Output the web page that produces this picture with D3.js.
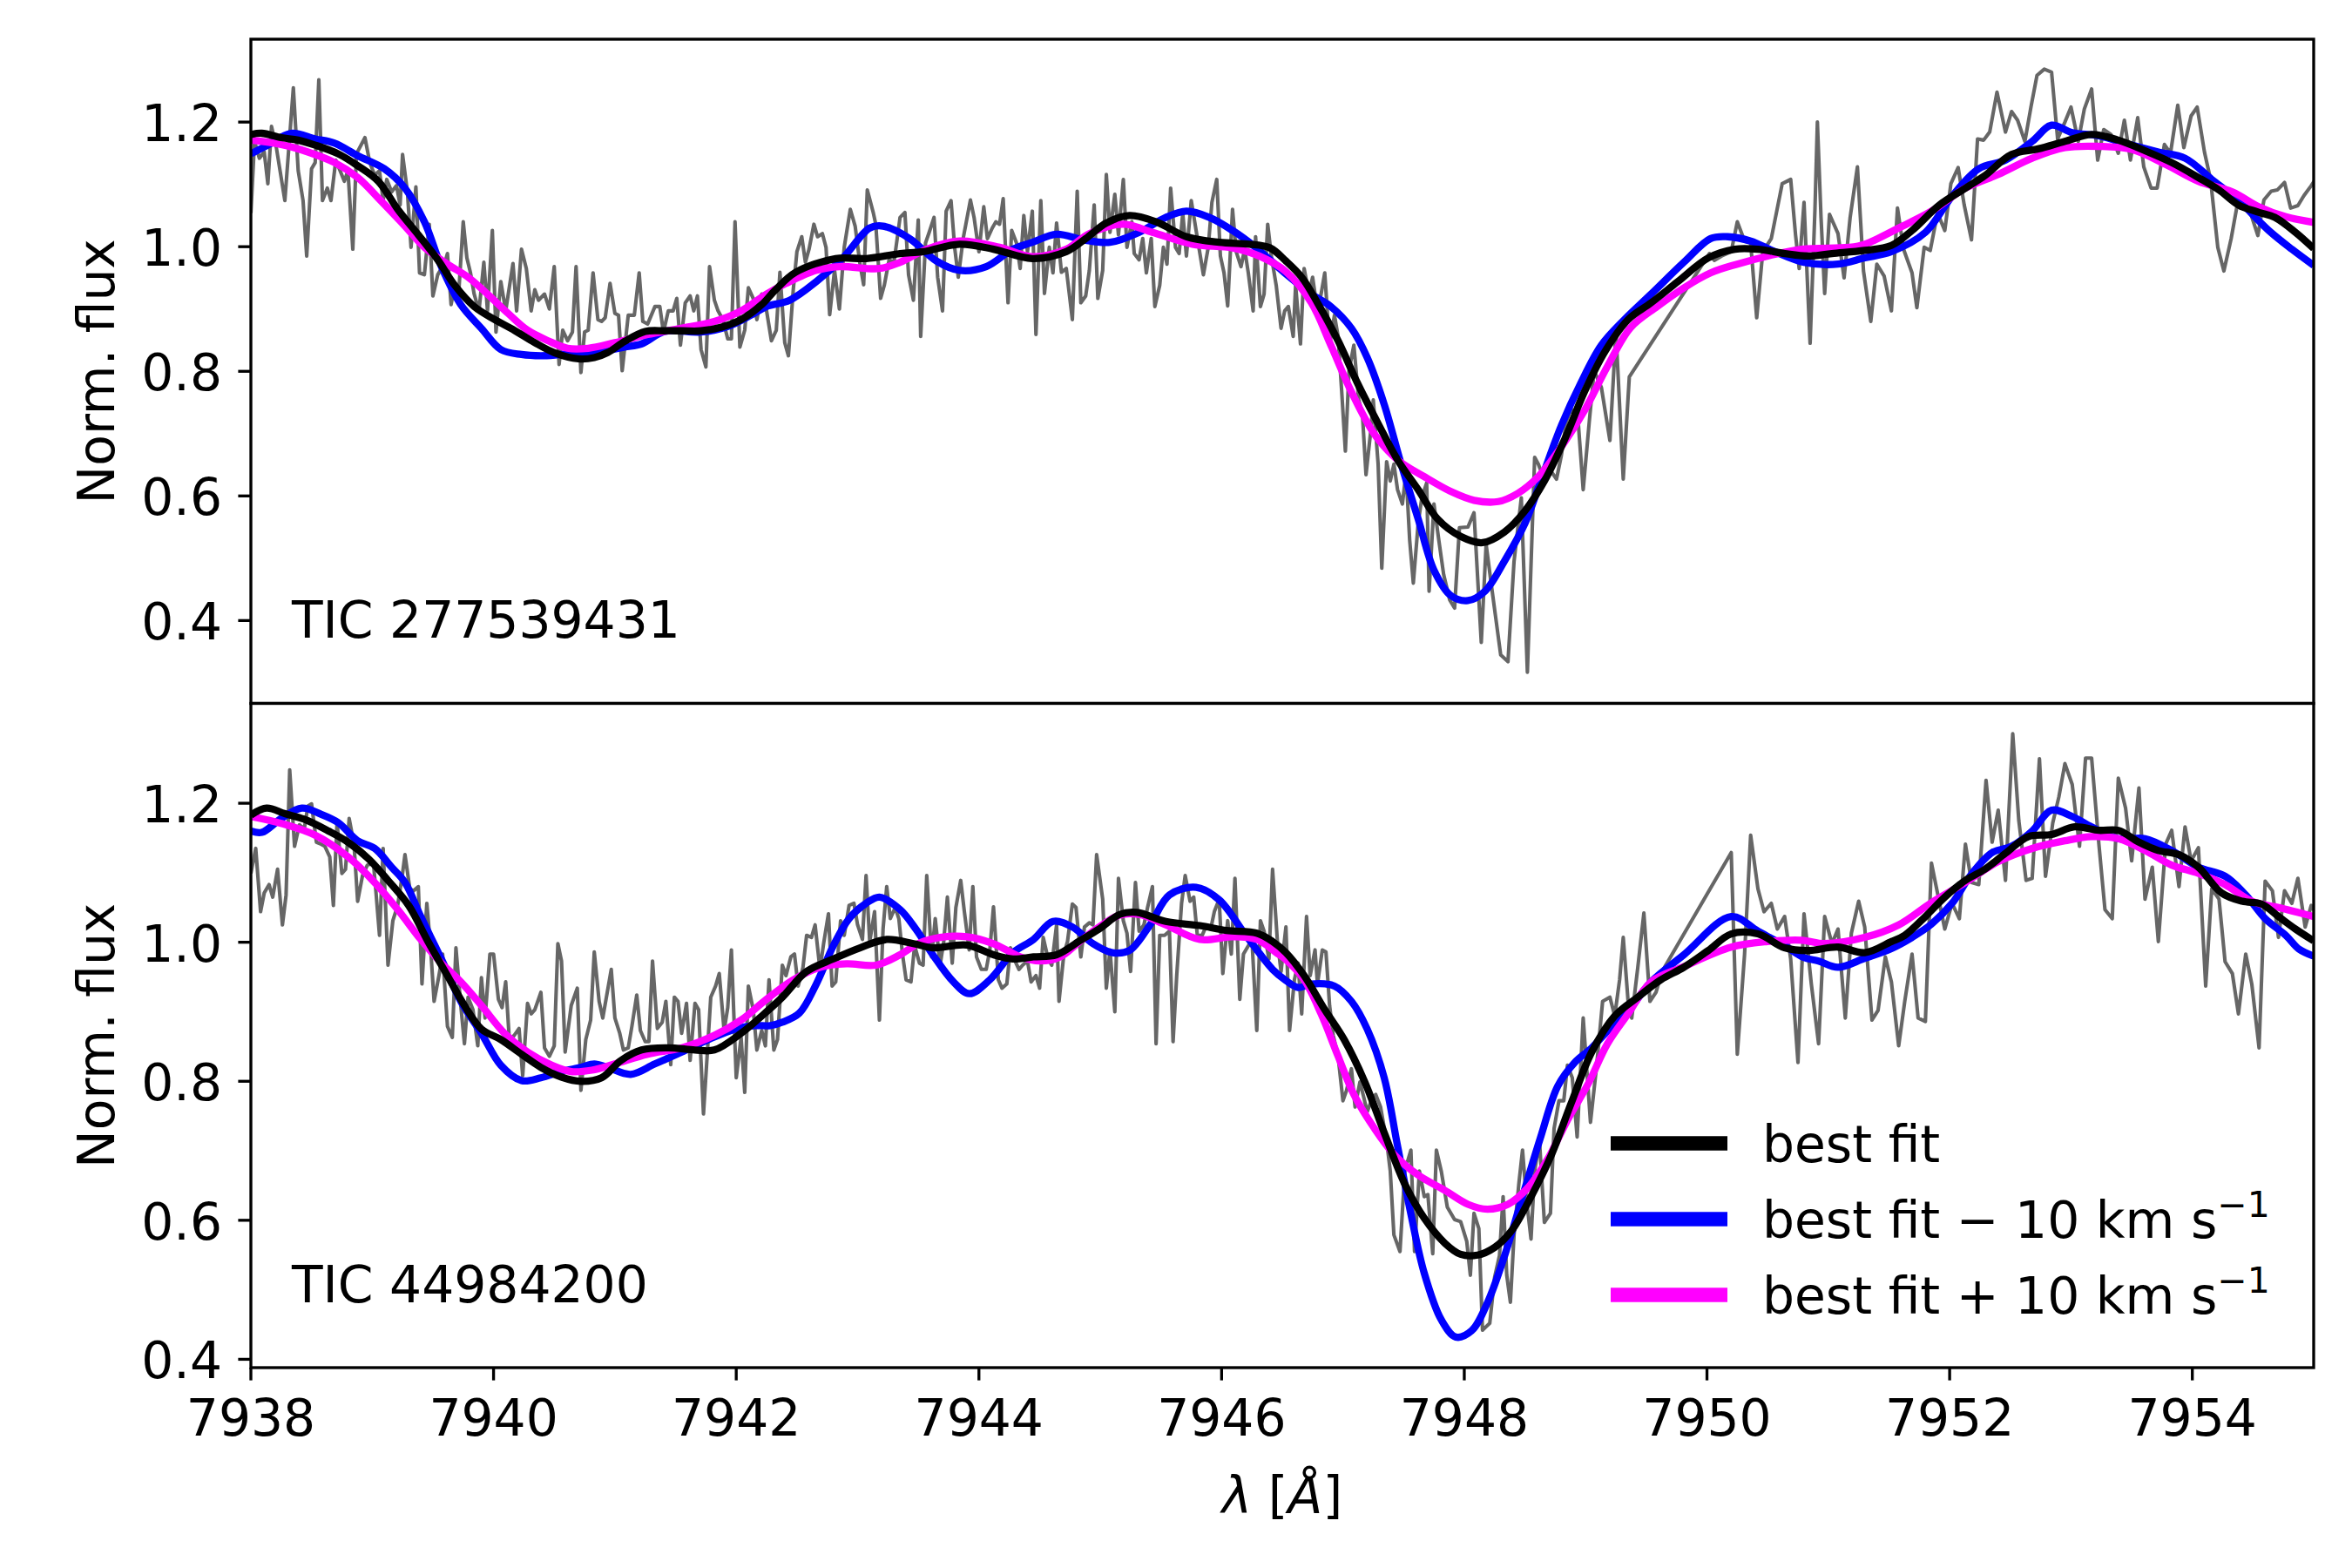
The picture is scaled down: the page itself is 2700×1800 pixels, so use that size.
<!DOCTYPE html>
<html><head><meta charset="utf-8">
<script src="https://cdn.jsdelivr.net/npm/d3@7"></script>
<style>body{margin:0;background:#fff}svg{display:block}</style>
</head><body><svg id="c" width="2700" height="1800"></svg>
<script>
const wavelengthTicks=[7938,7940,7942,7944,7946,7948,7950,7952,7954];
const fluxTicks=[0.4,0.6,0.8,1.0,1.2];
const panelLabels=["TIC 277539431","TIC 44984200"];
const legendLabels=[["best fit",""],["best fit \u2212 10 km s","\u22121"],["best fit + 10 km s","\u22121"]];
const fitColors=["#0000ff","#ff00ff","#000000"];

const topObserved=[[7938.00,1.054],[7938.03,1.169],[7938.07,1.142],[7938.11,1.152],[7938.14,1.101],[7938.17,1.193],[7938.21,1.159],[7938.28,1.074],[7938.35,1.255],[7938.39,1.122],[7938.43,1.074],[7938.46,0.985],[7938.50,1.125],[7938.53,1.135],[7938.56,1.268],[7938.59,1.074],[7938.63,1.094],[7938.66,1.074],[7938.70,1.139],[7938.77,1.105],[7938.80,1.122],[7938.84,0.996],[7938.87,1.149],[7938.94,1.175],[7938.98,1.135],[7939.02,1.115],[7939.06,1.122],[7939.09,1.074],[7939.12,1.108],[7939.16,1.088],[7939.20,1.098],[7939.23,1.067],[7939.25,1.148],[7939.29,1.088],[7939.32,0.999],[7939.36,1.096],[7939.39,0.958],[7939.43,0.955],[7939.47,1.036],[7939.50,0.921],[7939.54,0.955],[7939.60,0.975],[7939.62,0.989],[7939.65,0.907],[7939.68,0.938],[7939.71,0.917],[7939.75,1.040],[7939.78,0.982],[7939.81,0.958],[7939.84,0.924],[7939.88,0.897],[7939.92,0.975],[7939.95,0.897],[7939.99,1.026],[7940.02,0.863],[7940.06,0.944],[7940.10,0.897],[7940.16,0.973],[7940.19,0.897],[7940.23,0.996],[7940.27,0.965],[7940.31,0.897],[7940.34,0.931],[7940.37,0.914],[7940.42,0.924],[7940.46,0.900],[7940.50,0.968],[7940.54,0.811],[7940.57,0.866],[7940.61,0.849],[7940.65,0.863],[7940.68,0.968],[7940.72,0.798],[7940.75,0.863],[7940.78,0.866],[7940.82,0.958],[7940.86,0.883],[7940.89,0.880],[7940.92,0.886],[7940.96,0.941],[7941.00,0.893],[7941.03,0.890],[7941.06,0.801],[7941.11,0.890],[7941.16,0.890],[7941.20,0.958],[7941.23,0.880],[7941.27,0.876],[7941.33,0.904],[7941.37,0.904],[7941.40,0.863],[7941.44,0.897],[7941.48,0.897],[7941.51,0.917],[7941.54,0.842],[7941.58,0.910],[7941.62,0.921],[7941.65,0.897],[7941.68,0.921],[7941.71,0.835],[7941.75,0.807],[7941.78,0.968],[7941.82,0.914],[7941.85,0.897],[7941.89,0.883],[7941.93,0.852],[7941.96,0.852],[7941.99,1.040],[7942.03,0.839],[7942.07,0.866],[7942.10,0.934],[7942.14,0.917],[7942.17,0.883],[7942.21,0.924],[7942.25,0.897],[7942.29,0.849],[7942.33,0.866],[7942.36,0.959],[7942.40,0.846],[7942.43,0.825],[7942.47,0.931],[7942.50,0.992],[7942.54,1.016],[7942.57,0.975],[7942.60,0.996],[7942.64,1.036],[7942.67,1.016],[7942.71,1.021],[7942.74,0.999],[7942.77,0.891],[7942.81,0.962],[7942.85,0.900],[7942.89,0.999],[7942.94,1.060],[7942.98,1.033],[7943.02,0.972],[7943.05,0.939],[7943.08,1.091],[7943.13,1.054],[7943.15,1.036],[7943.19,0.917],[7943.22,0.938],[7943.26,0.979],[7943.30,0.975],[7943.35,1.047],[7943.39,1.055],[7943.42,0.955],[7943.46,0.914],[7943.50,1.043],[7943.52,0.856],[7943.56,1.006],[7943.59,1.023],[7943.63,1.047],[7943.66,0.951],[7943.70,0.897],[7943.73,1.057],[7943.77,1.074],[7943.80,0.999],[7943.83,0.951],[7943.87,1.013],[7943.93,1.075],[7943.96,1.047],[7944.00,0.992],[7944.04,1.064],[7944.07,1.013],[7944.11,1.030],[7944.14,1.040],[7944.17,1.036],[7944.20,1.077],[7944.24,0.910],[7944.27,1.026],[7944.31,1.006],[7944.34,0.965],[7944.37,1.050],[7944.40,0.992],[7944.44,1.057],[7944.47,0.859],[7944.51,1.074],[7944.54,0.925],[7944.58,0.999],[7944.61,0.958],[7944.64,1.038],[7944.68,0.959],[7944.72,0.965],[7944.77,0.883],[7944.81,1.089],[7944.84,0.910],[7944.88,0.921],[7944.91,0.962],[7944.95,1.067],[7944.98,0.917],[7945.02,0.962],[7945.05,1.116],[7945.08,1.023],[7945.12,1.084],[7945.15,1.019],[7945.19,1.108],[7945.22,0.999],[7945.26,1.040],[7945.28,0.989],[7945.32,0.979],[7945.35,1.013],[7945.38,0.958],[7945.42,1.013],[7945.45,0.904],[7945.49,0.938],[7945.52,0.999],[7945.55,0.972],[7945.58,1.094],[7945.62,0.999],[7945.65,0.989],[7945.68,1.054],[7945.71,0.985],[7945.75,1.074],[7945.79,1.026],[7945.85,0.955],[7945.89,0.999],[7945.92,1.071],[7945.96,1.108],[7945.99,0.985],[7946.02,0.958],[7946.05,0.905],[7946.09,1.060],[7946.12,0.992],[7946.16,0.968],[7946.19,0.996],[7946.22,0.958],[7946.26,0.897],[7946.28,1.016],[7946.32,0.904],[7946.35,0.924],[7946.38,1.036],[7946.41,0.985],[7946.45,0.938],[7946.49,0.869],[7946.52,0.897],[7946.55,0.904],[7946.59,0.856],[7946.61,0.938],[7946.65,0.844],[7946.68,0.965],[7946.72,0.924],[7946.75,0.951],[7946.79,0.897],[7946.82,0.924],[7946.85,0.958],[7946.89,0.842],[7946.93,0.890],[7946.96,0.856],[7946.99,0.767],[7947.02,0.672],[7947.05,0.801],[7947.09,0.842],[7947.13,0.754],[7947.16,0.733],[7947.19,0.634],[7947.23,0.706],[7947.25,0.754],[7947.29,0.651],[7947.32,0.484],[7947.36,0.655],[7947.39,0.624],[7947.42,0.651],[7947.45,0.610],[7947.49,0.587],[7947.52,0.638],[7947.55,0.529],[7947.58,0.460],[7947.62,0.556],[7947.65,0.597],[7947.69,0.621],[7947.71,0.447],[7947.75,0.587],[7947.79,0.529],[7947.83,0.474],[7947.88,0.433],[7947.92,0.420],[7947.96,0.549],[7948.03,0.550],[7948.08,0.573],[7948.14,0.365],[7948.18,0.522],[7948.23,0.447],[7948.30,0.345],[7948.36,0.334],[7948.41,0.495],[7948.47,0.597],[7948.52,0.317],[7948.58,0.662],[7948.61,0.651],[7948.65,0.631],[7948.70,0.644],[7948.76,0.627],[7948.80,0.665],[7948.84,0.719],[7948.88,0.740],[7948.94,0.716],[7948.98,0.610],[7949.03,0.719],[7949.07,0.801],[7949.13,0.774],[7949.20,0.689],[7949.25,0.863],[7949.31,0.627],[7949.36,0.791],[7950.02,0.989],[7950.06,0.978],[7950.12,0.985],[7950.20,0.992],[7950.25,1.040],[7950.31,1.009],[7950.36,1.006],[7950.41,0.886],[7950.46,0.992],[7950.53,1.013],[7950.62,1.101],[7950.69,1.108],[7950.73,1.019],[7950.76,0.965],[7950.80,1.071],[7950.82,0.978],[7950.85,0.845],[7950.89,1.060],[7950.91,1.200],[7950.94,1.047],[7950.97,0.925],[7951.01,1.052],[7951.08,1.021],[7951.13,0.950],[7951.18,1.047],[7951.24,1.128],[7951.29,0.961],[7951.35,0.880],[7951.40,0.972],[7951.46,0.953],[7951.52,0.897],[7951.57,1.062],[7951.62,0.996],[7951.69,0.958],[7951.73,0.902],[7951.79,0.999],[7951.84,0.994],[7951.90,1.054],[7951.96,1.026],[7952.01,1.101],[7952.07,1.127],[7952.12,1.067],[7952.18,1.011],[7952.23,1.173],[7952.28,1.171],[7952.33,1.184],[7952.39,1.248],[7952.46,1.184],[7952.51,1.217],[7952.56,1.203],[7952.62,1.169],[7952.67,1.224],[7952.72,1.275],[7952.78,1.285],[7952.84,1.280],[7952.89,1.173],[7952.95,1.200],[7953.00,1.224],[7953.06,1.169],[7953.11,1.221],[7953.17,1.253],[7953.22,1.139],[7953.27,1.188],[7953.33,1.180],[7953.39,1.150],[7953.44,1.203],[7953.49,1.139],[7953.55,1.207],[7953.60,1.128],[7953.66,1.094],[7953.71,1.094],[7953.77,1.164],[7953.82,1.150],[7953.88,1.227],[7953.93,1.159],[7953.99,1.210],[7954.04,1.224],[7954.10,1.152],[7954.15,1.108],[7954.21,0.999],[7954.26,0.961],[7954.32,1.013],[7954.37,1.067],[7954.43,1.067],[7954.48,1.054],[7954.54,1.018],[7954.59,1.075],[7954.65,1.089],[7954.70,1.091],[7954.76,1.103],[7954.81,1.062],[7954.87,1.066],[7954.92,1.082],[7954.98,1.098],[7955.02,1.110]];

const topBest=[[7938.00,1.180],[7938.09,1.182],[7938.25,1.175],[7938.39,1.171],[7938.53,1.163],[7938.72,1.149],[7938.88,1.130],[7939.05,1.105],[7939.21,1.060],[7939.38,1.019],[7939.54,0.979],[7939.68,0.938],[7939.84,0.904],[7940.01,0.883],[7940.17,0.866],[7940.34,0.846],[7940.50,0.830],[7940.70,0.820],[7940.83,0.822],[7940.94,0.830],[7941.08,0.848],[7941.25,0.864],[7941.41,0.865],[7941.55,0.865],[7941.71,0.865],[7941.88,0.871],[7942.04,0.883],[7942.21,0.907],[7942.32,0.930],[7942.49,0.959],[7942.82,0.981],[7943.07,0.981],[7943.35,0.989],[7943.54,0.992],[7943.84,1.004],[7944.12,0.996],[7944.44,0.981],[7944.72,0.992],[7944.88,1.013],[7945.05,1.038],[7945.24,1.050],[7945.46,1.040],[7945.71,1.016],[7945.98,1.007],[7946.23,1.004],[7946.40,0.998],[7946.53,0.977],[7946.66,0.951],[7946.79,0.910],[7946.96,0.849],[7947.12,0.781],[7947.29,0.716],[7947.45,0.658],[7947.62,0.610],[7947.78,0.563],[7947.97,0.535],[7948.15,0.525],[7948.33,0.542],[7948.50,0.576],[7948.66,0.624],[7948.83,0.692],[7948.99,0.767],[7949.16,0.832],[7949.35,0.883],[7949.54,0.910],[7949.76,0.944],[7950.01,0.982],[7950.23,0.996],[7950.42,0.996],[7950.64,0.989],[7950.83,0.985],[7951.03,0.989],[7951.30,0.994],[7951.52,1.002],[7951.69,1.026],[7951.91,1.066],[7952.13,1.094],[7952.29,1.114],[7952.51,1.148],[7952.73,1.157],[7952.95,1.169],[7953.17,1.180],[7953.39,1.171],[7953.61,1.154],[7953.83,1.135],[7954.05,1.111],[7954.22,1.091],[7954.38,1.067],[7954.55,1.055],[7954.68,1.047],[7954.85,1.023],[7955.00,0.997]];

const topMinus=[[7938.00,1.149],[7938.14,1.163],[7938.33,1.182],[7938.53,1.173],[7938.69,1.166],[7938.88,1.146],[7939.10,1.125],[7939.27,1.094],[7939.43,1.040],[7939.57,0.968],[7939.73,0.907],[7939.90,0.869],[7940.06,0.835],[7940.23,0.827],[7940.39,0.825],[7940.56,0.827],[7940.72,0.829],[7940.89,0.832],[7941.08,0.839],[7941.22,0.844],[7941.41,0.864],[7941.71,0.863],[7941.93,0.872],[7942.12,0.890],[7942.25,0.904],[7942.44,0.914],[7942.66,0.944],[7942.88,0.982],[7943.10,1.030],[7943.21,1.033],[7943.43,1.013],[7943.65,0.977],[7943.84,0.962],[7944.06,0.968],[7944.28,0.996],[7944.44,1.007],[7944.64,1.020],[7944.86,1.011],[7945.08,1.007],[7945.32,1.023],[7945.54,1.047],[7945.71,1.057],[7945.90,1.047],[7946.09,1.026],[7946.28,0.999],[7946.52,0.958],[7946.74,0.924],[7946.90,0.904],[7947.07,0.869],[7947.20,0.822],[7947.34,0.747],[7947.48,0.651],[7947.62,0.563],[7947.75,0.481],[7947.89,0.440],[7948.03,0.432],[7948.17,0.447],[7948.33,0.495],[7948.50,0.556],[7948.63,0.624],[7948.80,0.713],[7948.96,0.781],[7949.13,0.842],[7949.32,0.883],[7949.54,0.924],[7949.81,0.975],[7950.03,1.013],[7950.17,1.016],[7950.36,1.009],[7950.56,0.992],[7950.80,0.975],[7951.08,0.972],[7951.30,0.982],[7951.52,0.992],[7951.80,1.023],[7952.02,1.081],[7952.24,1.125],[7952.46,1.139],[7952.68,1.169],[7952.84,1.195],[7953.01,1.183],[7953.23,1.178],[7953.50,1.163],[7953.72,1.152],[7953.94,1.142],[7954.16,1.108],[7954.38,1.074],[7954.63,1.026],[7954.82,0.996],[7955.00,0.970]];

const topPlus=[[7938.00,1.171],[7938.25,1.164],[7938.47,1.152],[7938.69,1.135],[7938.88,1.111],[7939.07,1.074],[7939.27,1.033],[7939.43,0.999],[7939.62,0.972],[7939.79,0.951],[7939.95,0.924],[7940.12,0.893],[7940.28,0.866],[7940.45,0.849],[7940.61,0.837],[7940.78,0.837],[7941.00,0.846],[7941.27,0.859],[7941.55,0.869],[7941.82,0.880],[7942.04,0.897],[7942.25,0.924],[7942.41,0.941],[7942.66,0.962],[7942.85,0.968],[7943.18,0.965],[7943.35,0.975],[7943.57,0.996],[7943.84,1.009],[7944.17,0.999],[7944.44,0.984],[7944.72,0.996],[7944.91,1.021],[7945.19,1.036],[7945.43,1.023],[7945.76,1.004],[7946.09,0.998],[7946.31,0.985],[7946.53,0.960],[7946.74,0.910],[7946.90,0.842],[7947.07,0.767],[7947.26,0.699],[7947.45,0.658],[7947.67,0.631],[7947.89,0.607],[7948.08,0.593],[7948.28,0.591],[7948.44,0.604],[7948.61,0.631],[7948.80,0.679],[7948.99,0.737],[7949.18,0.808],[7949.37,0.870],[7949.59,0.904],[7949.81,0.934],[7950.03,0.958],[7950.25,0.972],[7950.50,0.985],[7950.78,0.996],[7951.17,0.999],[7951.30,1.004],[7951.58,1.030],[7951.85,1.057],[7952.13,1.094],[7952.40,1.116],[7952.68,1.142],[7952.95,1.159],[7953.23,1.161],[7953.50,1.156],[7953.78,1.132],[7954.05,1.105],[7954.33,1.088],[7954.55,1.064],[7954.77,1.048],[7955.00,1.039]];

const bottomObserved=[[7938.00,1.099],[7938.04,1.135],[7938.08,1.044],[7938.11,1.071],[7938.15,1.083],[7938.18,1.065],[7938.22,1.105],[7938.26,1.025],[7938.29,1.068],[7938.32,1.248],[7938.36,1.138],[7938.40,1.169],[7938.44,1.163],[7938.47,1.196],[7938.50,1.199],[7938.54,1.144],[7938.58,1.141],[7938.61,1.138],[7938.65,1.123],[7938.68,1.053],[7938.71,1.172],[7938.75,1.099],[7938.78,1.105],[7938.81,1.178],[7938.85,1.141],[7938.88,1.059],[7938.92,1.096],[7938.96,1.111],[7939.01,1.114],[7939.03,1.074],[7939.06,1.010],[7939.09,1.135],[7939.13,0.967],[7939.17,1.031],[7939.21,1.053],[7939.25,1.099],[7939.27,1.126],[7939.31,1.077],[7939.34,1.074],[7939.38,1.080],[7939.41,0.940],[7939.45,1.056],[7939.48,0.995],[7939.51,0.915],[7939.55,0.952],[7939.58,0.983],[7939.62,0.879],[7939.66,0.863],[7939.69,0.992],[7939.73,0.909],[7939.76,0.854],[7939.79,0.921],[7939.83,0.903],[7939.87,0.851],[7939.90,0.949],[7939.93,0.891],[7939.97,0.983],[7940.00,0.983],[7940.04,0.918],[7940.07,0.906],[7940.10,0.943],[7940.13,0.860],[7940.17,0.866],[7940.21,0.876],[7940.24,0.808],[7940.28,0.912],[7940.31,0.897],[7940.34,0.903],[7940.39,0.928],[7940.42,0.848],[7940.46,0.836],[7940.50,0.851],[7940.53,0.998],[7940.56,0.973],[7940.59,0.842],[7940.64,0.909],[7940.69,0.934],[7940.72,0.787],[7940.76,0.860],[7940.80,0.888],[7940.83,0.986],[7940.87,0.915],[7940.90,0.891],[7940.97,0.961],[7941.00,0.891],[7941.04,0.869],[7941.07,0.845],[7941.11,0.848],[7941.14,0.879],[7941.18,0.924],[7941.21,0.873],[7941.25,0.857],[7941.28,0.857],[7941.31,0.973],[7941.35,0.876],[7941.39,0.885],[7941.42,0.915],[7941.46,0.824],[7941.49,0.921],[7941.52,0.915],[7941.55,0.869],[7941.59,0.912],[7941.62,0.830],[7941.66,0.912],[7941.69,0.903],[7941.73,0.753],[7941.76,0.836],[7941.79,0.921],[7941.83,0.937],[7941.86,0.955],[7941.90,0.873],[7941.93,0.906],[7941.96,0.989],[7942.00,0.805],[7942.04,0.863],[7942.07,0.784],[7942.10,0.937],[7942.14,0.903],[7942.17,0.845],[7942.21,0.873],[7942.24,0.851],[7942.27,0.946],[7942.31,0.845],[7942.34,0.860],[7942.38,0.967],[7942.41,0.952],[7942.45,0.979],[7942.48,0.983],[7942.51,0.937],[7942.55,0.964],[7942.58,1.010],[7942.62,1.007],[7942.65,1.025],[7942.69,0.961],[7942.72,0.998],[7942.76,1.041],[7942.79,0.937],[7942.82,0.943],[7942.86,1.031],[7942.89,1.010],[7942.93,1.053],[7942.97,1.056],[7943.00,1.025],[7943.04,1.004],[7943.07,1.096],[7943.10,1.001],[7943.14,1.044],[7943.18,0.888],[7943.21,1.019],[7943.24,1.080],[7943.27,1.034],[7943.31,1.050],[7943.34,1.034],[7943.37,0.983],[7943.40,0.946],[7943.44,0.943],[7943.47,0.995],[7943.51,0.970],[7943.54,0.967],[7943.57,1.096],[7943.61,0.979],[7943.64,1.034],[7943.68,0.967],[7943.71,1.001],[7943.74,1.065],[7943.78,0.970],[7943.81,1.050],[7943.85,1.089],[7943.88,1.044],[7943.92,0.989],[7943.95,1.080],[7943.98,0.979],[7944.02,0.961],[7944.06,0.961],[7944.09,0.989],[7944.12,1.051],[7944.16,0.946],[7944.19,0.934],[7944.23,0.940],[7944.26,0.992],[7944.29,0.976],[7944.33,0.961],[7944.36,0.967],[7944.40,0.973],[7944.43,0.943],[7944.47,0.952],[7944.50,0.934],[7944.53,1.007],[7944.57,0.976],[7944.60,0.967],[7944.64,1.025],[7944.66,0.915],[7944.70,0.983],[7944.73,1.001],[7944.77,1.055],[7944.80,1.050],[7944.84,0.979],[7944.87,1.022],[7944.91,1.028],[7944.94,1.025],[7944.97,1.126],[7945.02,1.062],[7945.05,0.934],[7945.08,0.989],[7945.12,0.900],[7945.15,1.092],[7945.19,1.031],[7945.22,1.013],[7945.25,0.958],[7945.29,1.086],[7945.32,1.016],[7945.36,1.025],[7945.39,1.050],[7945.43,1.080],[7945.46,0.854],[7945.49,1.010],[7945.53,1.010],[7945.57,1.016],[7945.60,0.857],[7945.63,0.952],[7945.67,1.056],[7945.70,1.096],[7945.74,1.059],[7945.77,1.065],[7945.80,1.010],[7945.84,1.010],[7945.87,1.022],[7945.91,1.019],[7945.94,1.044],[7945.98,1.062],[7946.01,0.955],[7946.05,1.031],[7946.08,0.983],[7946.11,1.092],[7946.15,0.918],[7946.18,0.983],[7946.22,0.995],[7946.25,1.004],[7946.29,0.873],[7946.32,1.031],[7946.35,1.016],[7946.39,0.976],[7946.42,1.105],[7946.46,1.001],[7946.49,0.958],[7946.53,1.022],[7946.56,0.873],[7946.60,0.946],[7946.63,0.970],[7946.66,0.897],[7946.70,1.037],[7946.73,0.952],[7946.77,0.989],[7946.79,0.940],[7946.83,0.989],[7946.86,0.986],[7946.89,0.909],[7946.92,0.866],[7946.96,0.836],[7947.00,0.772],[7947.03,0.787],[7947.07,0.818],[7947.10,0.763],[7947.14,0.799],[7947.17,0.778],[7947.20,0.756],[7947.24,0.775],[7947.27,0.781],[7947.31,0.763],[7947.36,0.714],[7947.39,0.671],[7947.42,0.579],[7947.47,0.555],[7947.51,0.671],[7947.56,0.701],[7947.59,0.555],[7947.63,0.671],[7947.67,0.634],[7947.70,0.637],[7947.74,0.552],[7947.77,0.701],[7947.81,0.671],[7947.86,0.619],[7947.92,0.601],[7947.97,0.598],[7948.02,0.570],[7948.05,0.521],[7948.08,0.610],[7948.12,0.588],[7948.15,0.442],[7948.21,0.452],[7948.25,0.518],[7948.29,0.549],[7948.32,0.634],[7948.35,0.521],[7948.38,0.482],[7948.41,0.579],[7948.45,0.653],[7948.48,0.701],[7948.51,0.634],[7948.55,0.573],[7948.58,0.671],[7948.62,0.714],[7948.66,0.597],[7948.71,0.610],[7948.74,0.732],[7948.78,0.772],[7948.82,0.772],[7948.85,0.823],[7948.89,0.805],[7948.93,0.720],[7948.98,0.891],[7949.04,0.741],[7949.09,0.821],[7949.14,0.915],[7949.20,0.921],[7949.24,0.894],[7949.28,0.946],[7949.31,1.007],[7949.35,0.915],[7949.38,0.891],[7949.43,0.964],[7949.48,1.042],[7949.53,0.915],[7949.58,0.928],[7949.63,0.958],[7950.20,1.129],[7950.25,0.839],[7950.31,0.983],[7950.36,1.154],[7950.42,1.077],[7950.47,1.044],[7950.53,1.056],[7950.58,1.019],[7950.64,1.037],[7950.69,0.976],[7950.75,0.827],[7950.80,1.041],[7950.86,0.940],[7950.92,0.854],[7950.97,1.037],[7951.03,0.998],[7951.08,1.019],[7951.14,0.891],[7951.19,1.013],[7951.25,1.059],[7951.30,1.022],[7951.36,0.888],[7951.41,0.902],[7951.47,0.979],[7951.52,0.943],[7951.58,0.851],[7951.63,0.915],[7951.69,0.983],[7951.74,0.891],[7951.80,0.886],[7951.85,1.114],[7951.91,1.062],[7951.96,1.019],[7952.02,1.056],[7952.08,1.034],[7952.13,1.141],[7952.18,1.086],[7952.24,1.083],[7952.30,1.233],[7952.35,1.144],[7952.40,1.190],[7952.46,1.089],[7952.52,1.300],[7952.57,1.175],[7952.63,1.089],[7952.68,1.092],[7952.74,1.264],[7952.79,1.095],[7952.85,1.172],[7952.90,1.209],[7952.95,1.257],[7953.01,1.227],[7953.07,1.138],[7953.12,1.265],[7953.17,1.265],[7953.23,1.141],[7953.28,1.047],[7953.34,1.034],[7953.39,1.236],[7953.45,1.193],[7953.50,1.117],[7953.56,1.222],[7953.61,1.062],[7953.67,1.108],[7953.72,1.001],[7953.78,1.141],[7953.83,1.161],[7953.89,1.080],[7953.94,1.166],[7953.99,1.117],[7954.05,1.136],[7954.11,0.937],[7954.16,1.077],[7954.22,1.062],[7954.27,0.972],[7954.33,0.955],[7954.38,0.897],[7954.44,0.983],[7954.49,0.940],[7954.55,0.848],[7954.60,1.088],[7954.66,1.074],[7954.71,1.007],[7954.76,1.074],[7954.82,1.056],[7954.87,1.092],[7954.93,1.022],[7954.98,1.053],[7955.02,1.040]];

const bottomBest=[[7938.00,1.183],[7938.13,1.193],[7938.28,1.185],[7938.44,1.177],[7938.64,1.160],[7938.80,1.144],[7938.97,1.120],[7939.13,1.089],[7939.30,1.053],[7939.46,1.001],[7939.62,0.952],[7939.76,0.909],[7939.90,0.875],[7940.06,0.860],[7940.23,0.839],[7940.39,0.820],[7940.56,0.806],[7940.72,0.800],[7940.89,0.805],[7941.05,0.830],[7941.22,0.845],[7941.44,0.848],[7941.66,0.845],[7941.82,0.845],[7942.04,0.869],[7942.25,0.900],[7942.38,0.921],[7942.58,0.958],[7942.80,0.976],[7943.02,0.992],[7943.24,1.004],[7943.46,0.998],[7943.62,0.992],[7943.90,0.996],[7944.12,0.982],[7944.28,0.976],[7944.45,0.979],[7944.64,0.982],[7944.83,1.002],[7944.99,1.019],[7945.16,1.040],[7945.30,1.043],[7945.54,1.030],[7945.82,1.024],[7946.04,1.017],[7946.29,1.013],[7946.42,1.001],[7946.53,0.985],[7946.68,0.952],[7946.85,0.903],[7947.01,0.860],[7947.18,0.799],[7947.34,0.726],[7947.51,0.652],[7947.67,0.603],[7947.84,0.567],[7947.97,0.551],[7948.11,0.550],[7948.25,0.561],[7948.39,0.585],[7948.55,0.634],[7948.72,0.695],[7948.88,0.768],[7949.05,0.842],[7949.24,0.894],[7949.43,0.921],[7949.62,0.946],[7949.81,0.964],[7950.01,0.988],[7950.20,1.012],[7950.42,1.012],[7950.64,0.992],[7950.83,0.988],[7951.08,0.993],[7951.30,0.985],[7951.52,1.001],[7951.63,1.010],[7951.80,1.037],[7951.96,1.065],[7952.13,1.089],[7952.29,1.105],[7952.46,1.128],[7952.65,1.152],[7952.84,1.155],[7953.03,1.166],[7953.23,1.161],[7953.39,1.161],[7953.56,1.144],[7953.72,1.132],[7953.89,1.126],[7954.05,1.108],[7954.24,1.071],[7954.41,1.059],[7954.57,1.055],[7954.71,1.037],[7954.85,1.019],[7955.00,1.002]];

const bottomMinus=[[7938.00,1.160],[7938.09,1.158],[7938.25,1.178],[7938.42,1.193],[7938.58,1.184],[7938.72,1.172],[7938.88,1.146],[7939.02,1.135],[7939.16,1.108],[7939.27,1.086],[7939.40,1.037],[7939.57,0.976],[7939.73,0.915],[7939.90,0.869],[7940.06,0.823],[7940.23,0.801],[7940.39,0.805],[7940.56,0.814],[7940.72,0.820],[7940.83,0.825],[7940.94,0.820],[7941.13,0.810],[7941.33,0.825],[7941.55,0.842],[7941.77,0.860],[7941.99,0.875],[7942.15,0.880],[7942.28,0.880],[7942.38,0.885],[7942.52,0.898],[7942.66,0.940],[7942.80,0.995],[7942.93,1.034],[7943.07,1.056],[7943.18,1.065],[7943.35,1.047],[7943.48,1.019],[7943.62,0.982],[7943.79,0.943],[7943.92,0.926],[7944.09,0.946],[7944.28,0.985],[7944.45,1.004],[7944.61,1.030],[7944.77,1.022],[7944.94,0.998],[7945.10,0.985],[7945.24,0.988],[7945.41,1.025],[7945.57,1.068],[7945.79,1.079],[7945.98,1.061],[7946.20,1.010],[7946.42,0.961],[7946.53,0.945],[7946.63,0.935],[7946.74,0.940],[7946.93,0.937],[7947.07,0.915],[7947.20,0.875],[7947.34,0.805],[7947.45,0.707],[7947.56,0.609],[7947.67,0.524],[7947.81,0.457],[7947.93,0.432],[7948.06,0.441],[7948.19,0.481],[7948.33,0.548],[7948.50,0.646],[7948.63,0.720],[7948.77,0.793],[7948.91,0.827],[7949.05,0.848],[7949.21,0.878],[7949.38,0.908],[7949.54,0.943],[7949.81,0.982],[7950.20,1.037],[7950.42,1.016],[7950.64,0.995],[7950.80,0.978],[7950.92,0.973],[7951.08,0.964],[7951.30,0.977],[7951.52,0.991],[7951.69,1.007],[7951.85,1.026],[7952.02,1.056],[7952.18,1.098],[7952.35,1.129],[7952.51,1.138],[7952.68,1.160],[7952.84,1.190],[7953.01,1.181],[7953.17,1.166],[7953.39,1.149],[7953.61,1.149],[7953.83,1.132],[7954.05,1.108],[7954.27,1.095],[7954.44,1.068],[7954.60,1.034],[7954.77,1.010],[7954.88,0.990],[7955.00,0.980]];

const bottomPlus=[[7938.00,1.181],[7938.25,1.171],[7938.53,1.154],[7938.80,1.123],[7939.02,1.086],[7939.21,1.047],[7939.40,1.004],[7939.57,0.970],[7939.73,0.943],[7939.90,0.909],[7940.09,0.869],[7940.28,0.842],[7940.48,0.823],[7940.64,0.814],[7940.81,0.816],[7941.00,0.825],[7941.27,0.839],[7941.55,0.848],[7941.82,0.866],[7942.04,0.888],[7942.25,0.918],[7942.47,0.946],[7942.69,0.964],[7942.91,0.969],[7943.15,0.967],[7943.35,0.982],[7943.51,0.999],[7943.68,1.007],[7943.90,1.008],[7944.12,0.998],[7944.34,0.979],[7944.50,0.973],[7944.67,0.979],[7944.83,1.001],[7944.99,1.022],[7945.16,1.039],[7945.32,1.040],[7945.54,1.025],[7945.82,1.004],[7946.09,1.008],[7946.29,1.004],[7946.45,0.985],[7946.53,0.975],[7946.68,0.946],[7946.82,0.897],[7946.96,0.836],[7947.09,0.781],[7947.26,0.732],[7947.42,0.695],[7947.62,0.665],[7947.84,0.643],[7948.03,0.623],[7948.19,0.616],[7948.36,0.623],[7948.52,0.646],[7948.69,0.689],[7948.85,0.744],[7949.02,0.796],[7949.18,0.854],[7949.35,0.897],[7949.54,0.943],[7949.81,0.965],[7950.20,0.993],[7950.50,1.001],[7950.78,1.003],[7950.97,0.998],[7951.30,1.007],[7951.58,1.025],[7951.85,1.057],[7952.13,1.086],[7952.40,1.116],[7952.68,1.135],[7952.95,1.146],[7953.17,1.152],[7953.39,1.149],[7953.61,1.132],[7953.83,1.111],[7954.05,1.099],[7954.27,1.083],[7954.49,1.059],[7954.71,1.050],[7955.00,1.037]];

// ---------- layout ----------
const L=288,R=2656,T=45,M=807.5,B=1570;
const FS=58.3, LW=3.33, TICK=14.6;
const svg=d3.select("#c");
svg.append("rect").attr("width",2700).attr("height",1800).attr("fill","#fff");
const font="DejaVu Sans";
const x=d3.scaleLinear().domain([7938,7955]).range([L,R]);

const panels=[
  {y0:T,y1:M,dom:[0.267,1.333],obs:topObserved,fits:[topMinus,topPlus,topBest],label:panelLabels[0],labelY:732},
  {y0:M,y1:B,dom:[0.388,1.3436],obs:bottomObserved,fits:[bottomMinus,bottomPlus,bottomBest],label:panelLabels[1],labelY:1495}
];

panels.forEach((p,i)=>{
  const y=d3.scaleLinear().domain(p.dom).range([p.y1,p.y0]);
  const g=svg.append("g");
  g.append("rect").attr("x",L).attr("y",p.y0).attr("width",R-L).attr("height",p.y1-p.y0).attr("fill","#fff");
  const cid="clip"+i;
  svg.append("clipPath").attr("id",cid).append("rect").attr("x",L).attr("y",p.y0).attr("width",R-L).attr("height",p.y1-p.y0);
  const pg=g.append("g").attr("clip-path",`url(#${cid})`);
  const lin=d3.line().x(d=>x(d[0])).y(d=>y(d[1]));
  pg.append("path").attr("d",lin(p.obs)).attr("fill","none").attr("stroke","#666666").attr("stroke-width",4.1).attr("stroke-linejoin","round");
  const smooth=d3.line().x(d=>x(d[0])).y(d=>y(d[1])).curve(d3.curveCatmullRom.alpha(0.5));
  p.fits.forEach((f,k)=>{
    pg.append("path").attr("d",smooth(f)).attr("fill","none").attr("stroke",fitColors[k]).attr("stroke-width",8.3).attr("stroke-linejoin","round").attr("stroke-linecap","butt");
  });
  g.append("text").attr("x",335).attr("y",p.labelY).attr("font-family",font).attr("font-size",FS).attr("fill","#000").text(p.label);
  fluxTicks.forEach(t=>{
    const yy=y(t);
    g.append("line").attr("x1",L-TICK).attr("x2",L).attr("y1",yy).attr("y2",yy).attr("stroke","#000").attr("stroke-width",LW);
    g.append("text").attr("x",255).attr("y",yy+22).attr("text-anchor","end").attr("font-family",font).attr("font-size",FS).attr("fill","#000").text(d3.format(".1f")(t));
  });
  const cy=(p.y0+p.y1)/2;
  g.append("text").attr("transform",`translate(131,${cy}) rotate(-90)`).attr("text-anchor","middle").attr("font-family",font).attr("font-size",FS).attr("fill","#000").text("Norm. flux");
  g.append("rect").attr("x",L).attr("y",p.y0).attr("width",R-L).attr("height",p.y1-p.y0).attr("fill","none").attr("stroke","#000").attr("stroke-width",LW);
});

wavelengthTicks.forEach(t=>{
  const xx=x(t);
  svg.append("line").attr("x1",xx).attr("x2",xx).attr("y1",B).attr("y2",B+TICK).attr("stroke","#000").attr("stroke-width",LW);
  svg.append("text").attr("x",xx).attr("y",1648).attr("text-anchor","middle").attr("font-family",font).attr("font-size",FS).attr("fill","#000").text(t);
});
const xl=svg.append("text").attr("x",(L+R)/2).attr("y",1737).attr("text-anchor","middle").attr("font-family",font).attr("font-size",FS).attr("fill","#000");
xl.append("tspan").attr("font-style","italic").text("\u03bb");
xl.append("tspan").text(" [");
xl.append("tspan").attr("font-style","italic").text("\u00c5");
xl.append("tspan").text("]");

const legColors=[fitColors[2],fitColors[0],fitColors[1]];
const legY=[1312.5,1399.5,1486.5];
legendLabels.forEach((lab,k)=>{
  svg.append("line").attr("x1",1849).attr("x2",1983).attr("y1",legY[k]).attr("y2",legY[k]).attr("stroke",legColors[k]).attr("stroke-width",16.7);
  const t=svg.append("text").attr("x",2023).attr("y",legY[k]+21).attr("font-family",font).attr("font-size",FS).attr("fill","#000");
  t.append("tspan").text(lab[0]);
  if(lab[1]) t.append("tspan").attr("font-size",41).attr("dy",-24).text(lab[1]);
});
</script></body></html>
